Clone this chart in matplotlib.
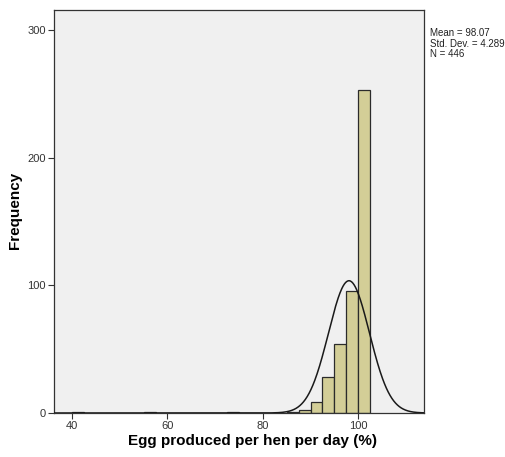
import numpy as np
import matplotlib
matplotlib.use("Agg")
import matplotlib.pyplot as plt

plt.rcParams["font.family"] = ["Liberation Sans", "DejaVu Sans"]

# histogram bins (width 2.5) and counts
bin_left = [40.0, 55.0, 72.5, 85.0, 87.5, 90.0, 92.5, 95.0, 97.5, 100.0]
counts = [1, 1, 1, 1, 2, 9, 28, 54, 96, 253]
bin_width = 2.5

mean = 98.07
std_dev = 4.289
n_obs = 446

x_ticks = [40, 60, 80, 100]
y_ticks = [0, 100, 200, 300]

fig = plt.figure(figsize=(5.06, 4.57), dpi=100)
ax = fig.add_axes([0.1067, 0.0963, 0.7312, 0.8818])
ax.set_facecolor("#F0F0F0")

ax.bar(bin_left, counts, width=bin_width, align="edge",
       color="#D3CE97", edgecolor="#2b2b2b", linewidth=0.9, zorder=2)

# fitted normal curve scaled to counts
xs = np.linspace(36.2, 113.8, 600)
ys = n_obs * bin_width / (std_dev * np.sqrt(2 * np.pi)) * \
    np.exp(-0.5 * ((xs - mean) / std_dev) ** 2)
ax.plot(xs, ys, color="#1a1a1a", linewidth=1.1, zorder=3)

ax.set_xlim(36.2, 113.8)
ax.set_ylim(0, 316)
ax.set_xticks(x_ticks)
ax.set_yticks(y_ticks)
ax.tick_params(direction="out", length=4, width=0.8, labelsize=8,
               colors="#333333", pad=2)
for s in ax.spines.values():
    s.set_color("#333333")
    s.set_linewidth(0.9)

# axis titles are centred on the whole figure, not the axes
fig.text(0.5, 1 - 441 / 457, "Egg produced per hen per day (%)", fontsize=11,
         fontweight="bold", ha="center", va="center")
fig.text(15 / 506, 1 - 210 / 457, "Frequency", rotation=90, fontsize=11,
         fontweight="bold", ha="center", va="center")

fig.text(0.849, 0.938, f"Mean = {mean:.2f}\nStd. Dev. = {std_dev:.3f}\nN = {n_obs}",
         fontsize=7, va="top", ha="left", linespacing=1.05, color="#222222")

fig.savefig("out.png", dpi=100)
